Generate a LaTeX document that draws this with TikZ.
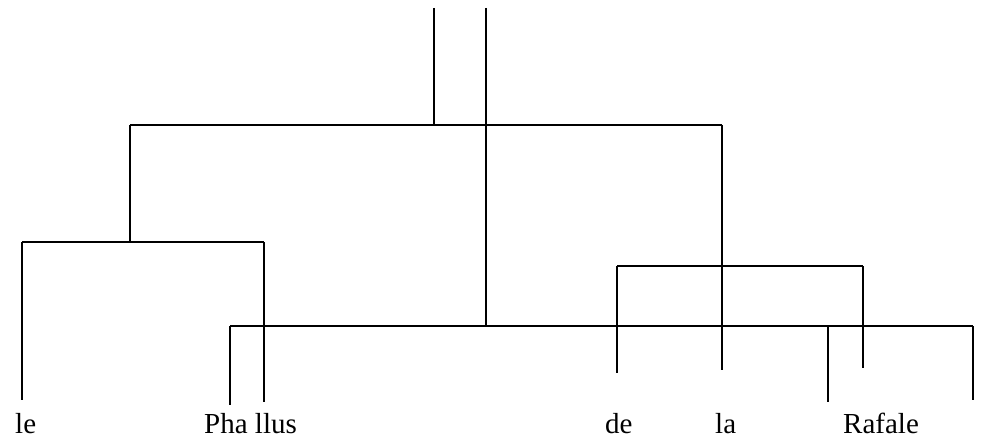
\documentclass[tikz,border=0pt]{standalone}
\usepackage{fontspec}
\setmainfont{Liberation Serif}
\begin{document}
\begin{tikzpicture}[x=1pt,y=-1pt,
   branch/.style={black,line width=2.2pt},
   word/.style={anchor=base west,inner sep=0pt,font=\fontsize{29}{34}\selectfont}]
   \useasboundingbox (0,0) rectangle (985,441);
   % top stems
   \coordinate (topone) at (434,8);
   \coordinate (toptwo) at (486,8);
   % upper bar
   \coordinate (upleft) at (130,125);
   \coordinate (upmid) at (434,125);
   \coordinate (upright) at (722,125);
   % left bar
   \coordinate (leftleft) at (22,242);
   \coordinate (leftmid) at (130,242);
   \coordinate (leftright) at (264,242);
   % right bar
   \coordinate (rightleft) at (617,266);
   \coordinate (rightmid) at (722,266);
   \coordinate (rightright) at (863,266);
   % long bottom bar
   \coordinate (lowleft) at (230,326);
   \coordinate (lowmid) at (486,326);
   \coordinate (lowthree) at (828,326);
   \coordinate (lowright) at (973,326);
   % leaf ends
   \coordinate (endle) at (22,400);
   \coordinate (endpha) at (230,405);
   \coordinate (endllus) at (264,402);
   \coordinate (endde) at (617,373);
   \coordinate (endla) at (722,370);
   \coordinate (endraf) at (863,368);
   \coordinate (endrafone) at (828,402);
   \coordinate (endraftwo) at (973,400);
   % words
   \node[word] (le) at (15,433) {le};
   \node[word] (phallus) at (204,433) {Pha llus};
   \node[word] (de) at (605,433) {de};
   \node[word] (la) at (715,433) {la};
   \node[word] (rafale) at (843,433) {Rafale};
   \draw[branch] (topone)--(upmid);
   \draw[branch] (toptwo)--(lowmid);
   \draw[branch] (upleft)--(upright);
   \draw[branch] (upleft)--(leftmid);
   \draw[branch] (leftleft)--(leftright);
   \draw[branch] (leftleft)--(endle);
   \draw[branch] (leftright)--(endllus);
   \draw[branch] (lowleft)--(lowright);
   \draw[branch] (lowleft)--(endpha);
   \draw[branch] (upright)--(endla);
   \draw[branch] (rightleft)--(rightright);
   \draw[branch] (rightleft)--(endde);
   \draw[branch] (rightright)--(endraf);
   \draw[branch] (lowthree)--(endrafone);
   \draw[branch] (lowright)--(endraftwo);
\end{tikzpicture}
\end{document}
